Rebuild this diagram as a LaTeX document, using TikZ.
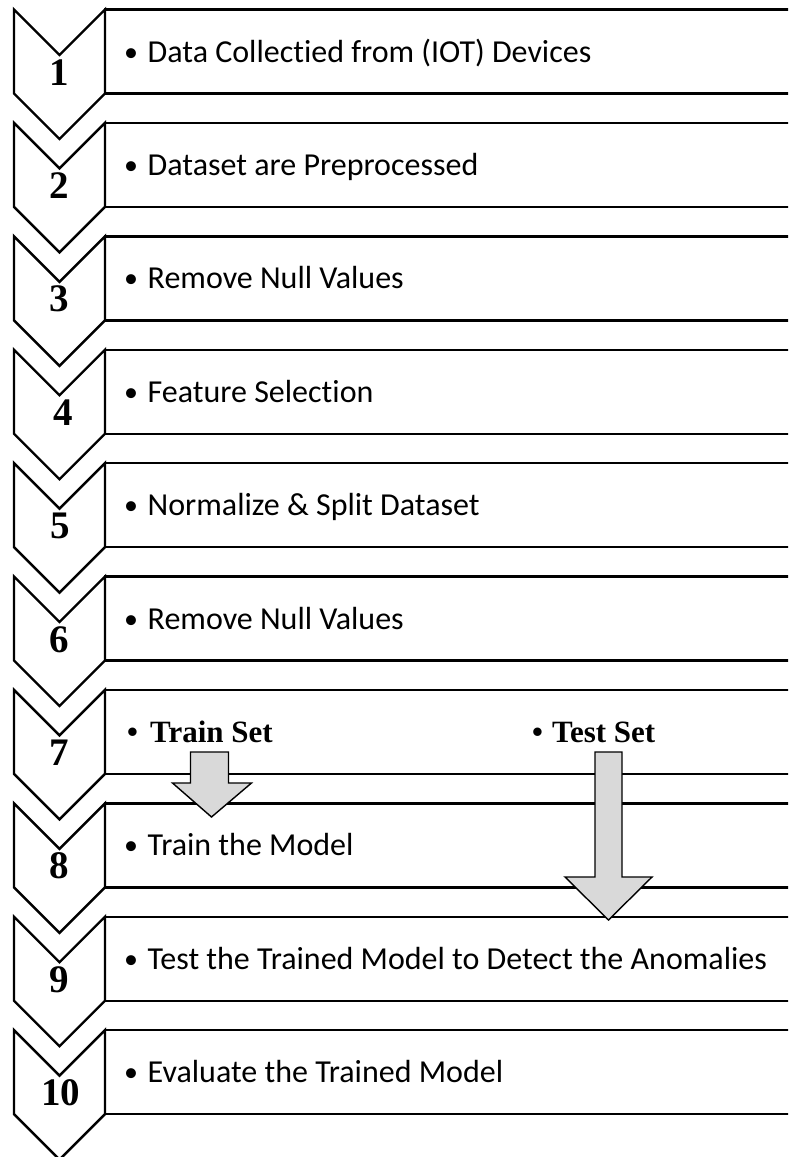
\documentclass[tikz,border=0pt]{standalone}
\usepackage{fontspec}
\setmainfont{Carlito}[Ligatures={NoCommon,NoDiscretionary,NoContextual}]
\newfontfamily\tnr{Liberation Serif}
\tikzset{
  stepline/.style={draw=black, line width=2.4pt, line join=miter},
  chev/.style={stepline, fill=white},
  stepbox/.style={stepline, fill=white},
  steptext/.style={anchor=base west, inner sep=0pt, font=\fontsize{32}{34}\selectfont},
  stepnum/.style={anchor=base, inner sep=0pt, font=\tnr\bfseries\fontsize{39}{41}\selectfont},
  settext/.style={anchor=base west, inner sep=0pt, font=\tnr\bfseries\fontsize{31}{33}\selectfont},
  blockarrow/.style={draw=black, line width=1.4pt, fill=gray!30, line join=miter}
}
% bullet set in a box of fixed width, so the item text starts at a fixed place
\newcommand{\bul}[1]{\makebox[#1][l]{\raisebox{1pt}{\fontsize{28}{28}\selectfont\textbullet}}}
\newcommand{\sbul}[1]{\makebox[#1][l]{\textbullet}}
\begin{document}
\begin{tikzpicture}[x=1pt,y=-1pt]
\useasboundingbox (0,0) rectangle (788,1157);
\clip (0,0) rectangle (788,1157);
% rows: top edge of row i sits at 9.5 + (i-1)*113.4
\foreach \i/\nx/\txt in {
  1/59.5/Data Collectied from (IOT) Devices,
  2/59.5/Dataset are Preprocessed,
  3/59.5/Remove Null Values,
  4/63/Feature Selection,
  5/60/Normalize \& Split Dataset,
  6/59.5/Remove Null Values,
  7/59.5/,
  8/59.5/Train the Model,
  9/59.5/Test the Trained Model to Detect the Anomalies,
  10/60.5/Evaluate the Trained Model}{
  \pgfmathsetmacro{\t}{9.5+(\i-1)*113.4}
  \draw[stepbox] (105,\t) rectangle (800,\t+84);
  \draw[chev] (14,\t) -- (59.5,\t+45.5) -- (105,\t) -- (105,\t+84)
     -- (59.5,\t+129.5) -- (14,\t+84) -- cycle;
  \node[stepnum] (n\i) at (\nx,\t+75.5) {\i};
  \ifx\txt\empty\else
  \node[steptext] (t\i) at (124,\t+52.5) {\bul{23.5pt}\txt};
  \fi
}
% row 7: the two data subsets
\node[settext] (train) at (127,742) {\sbul{23pt}Train Set};
\node[settext] (test) at (532,742) {\sbul{20pt}Test Set};
% train set flows into training
\draw[blockarrow] (190.5,752) -- (228.5,752) -- (228.5,783) -- (251.5,783)
   -- (211.5,817) -- (172.5,783) -- (190.5,783) -- cycle;
% test set flows down to the testing step
\draw[blockarrow] (595,752) -- (622,752) -- (622,877) -- (652,877)
   -- (608.5,920) -- (565,877) -- (595,877) -- cycle;
\end{tikzpicture}
\end{document}
